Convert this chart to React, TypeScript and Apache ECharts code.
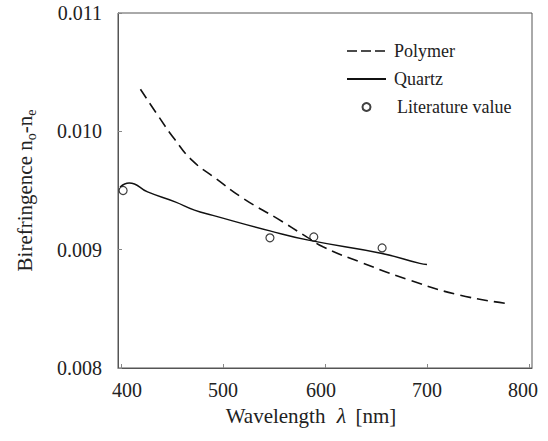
import React, { useEffect, useRef } from "react";
import * as echarts from "echarts";

const xTicks = [400, 500, 600, 700, 800];
const yTicks = [0.008, 0.009, 0.01, 0.011];

const polymerWl = [419, 436, 453, 470, 493, 520, 553, 582, 598, 634, 683, 732, 778];
const polymerVal = [0.010356, 0.010136, 0.009928, 0.009752, 0.009601, 0.009432, 0.009264, 0.009108, 0.009024, 0.008897, 0.008742, 0.008616, 0.008546];

const quartzWl = [399, 408, 426, 453, 472, 490, 546, 585, 656, 693, 700];
const quartzVal = [0.00953, 0.009564, 0.009488, 0.009404, 0.009334, 0.00929, 0.009159, 0.009078, 0.008968, 0.008884, 0.008875];

const litWl = [402, 546, 589, 656];
const litVal = [0.0095, 0.0091, 0.009107, 0.009015];

const FONT = "Liberation Serif";

export default function App() {
  const ref = useRef<HTMLDivElement>(null);
  useEffect(() => {
    if (!ref.current) return;
    const chart = echarts.init(ref.current, undefined, { renderer: "svg" });
    const zip = (a: number[], b: number[]) => a.map((v, i) => [v, b[i]]);
    chart.setOption({
      animation: false,
      backgroundColor: "#ffffff",
      textStyle: { fontFamily: FONT },
      grid: {
        left: 118,
        right: 16,
        top: 13,
        bottom: 73,
        show: true,
        borderColor: "#555",
        borderWidth: 1,
      },
      legend: {
        orient: "vertical",
        left: 341,
        top: 37,
        itemWidth: 39,
        itemHeight: 8,
        itemGap: 10,
        textStyle: { fontFamily: FONT, fontSize: 18, color: "#222", lineHeight: 18, padding: [0, 0, 0, 3] },
        data: [
          { name: "Polymer", lineStyle: { type: [10, 4], width: 1.6 }, itemStyle: { opacity: 0 } },
          { name: "Quartz", itemStyle: { opacity: 0 } },
          { name: "Literature value", textStyle: { fontFamily: FONT, fontSize: 18, color: "#222", lineHeight: 18, padding: [0, 0, 0, 6] } },
        ],
      },
      xAxis: {
        type: "value",
        min: 397,
        max: 803,
        axisLine: { show: true, lineStyle: { color: "#555", width: 1 } },
        axisTick: { show: true, inside: true, length: 4, lineStyle: { color: "#888" }, customValues: xTicks },
        axisLabel: {
          customValues: xTicks,
          fontFamily: FONT,
          fontSize: 20,
          color: "#222",
          margin: 12,
          formatter: (v: number) => {
            if (v === 400) return "{a|400}";
            if (v === 600) return "{b|600}";
            if (v === 800) return "{c|800}";
            return String(v);
          },
          rich: {
            a: { fontFamily: FONT, fontSize: 20, color: "#222", padding: [0, 0, 0, 12] },
            b: { fontFamily: FONT, fontSize: 20, color: "#222", padding: [0, 8, 0, 0] },
            c: { fontFamily: FONT, fontSize: 20, color: "#222", padding: [0, 12, 0, 0] },
          },
        },
        splitLine: { show: false },
        name: "Wavelength {l|λ} [nm]",
        nameLocation: "middle",
        nameGap: 35,
        nameTextStyle: {
          fontFamily: FONT,
          fontSize: 21,
          color: "#222",
          padding: [0, 28, 0, 0],
          rich: {
            l: { fontFamily: FONT, fontStyle: "italic", fontSize: 22, color: "#222", padding: [0, 4, 0, 6] },
          },
        },
      },
      yAxis: {
        type: "value",
        min: 0.008,
        max: 0.011,
        interval: 0.001,
        axisLine: { show: true, lineStyle: { color: "#555", width: 1 } },
        axisTick: { show: true, inside: true, length: 4, lineStyle: { color: "#888" } },
        axisLabel: {
          fontFamily: FONT,
          fontSize: 20,
          color: "#222",
          margin: 16,
          formatter: (v: number) => {
            const t = yTicks.find((y) => Math.abs(y - v) < 1e-9);
            return (t ?? v).toFixed(3);
          },
        },
        splitLine: { show: false },
        name: "Birefringence n{s|o}-n{s|e}",
        nameLocation: "middle",
        nameRotate: 90,
        nameGap: 80,
        nameTextStyle: {
          fontFamily: FONT,
          fontSize: 21,
          color: "#222",
          lineHeight: 26,
          rich: {
            s: { fontFamily: FONT, fontSize: 14, color: "#222", verticalAlign: "bottom", lineHeight: 10 },
          },
        },
      },
      series: [
        {
          name: "Polymer",
          type: "line",
          data: zip(polymerWl, polymerVal),
          smooth: 0.5,
          symbol: "none",
          lineStyle: { color: "#111", width: 1.6, type: [11, 6] },
          itemStyle: { color: "#111" },
        },
        {
          name: "Quartz",
          type: "line",
          data: zip(quartzWl, quartzVal),
          smooth: 0.5,
          symbol: "none",
          lineStyle: { color: "#111", width: 1.4 },
          itemStyle: { color: "#111" },
        },
        {
          name: "Literature value",
          type: "scatter",
          data: zip(litWl, litVal),
          symbol: "circle",
          symbolSize: 8,
          itemStyle: { color: "#fff", borderColor: "#111", borderWidth: 1.2 },
        },
      ],
    });
    return () => chart.dispose();
  }, []);
  return <div ref={ref} style={{ position: "fixed", left: 0, top: 0, width: 548, height: 441 }} />;
}
